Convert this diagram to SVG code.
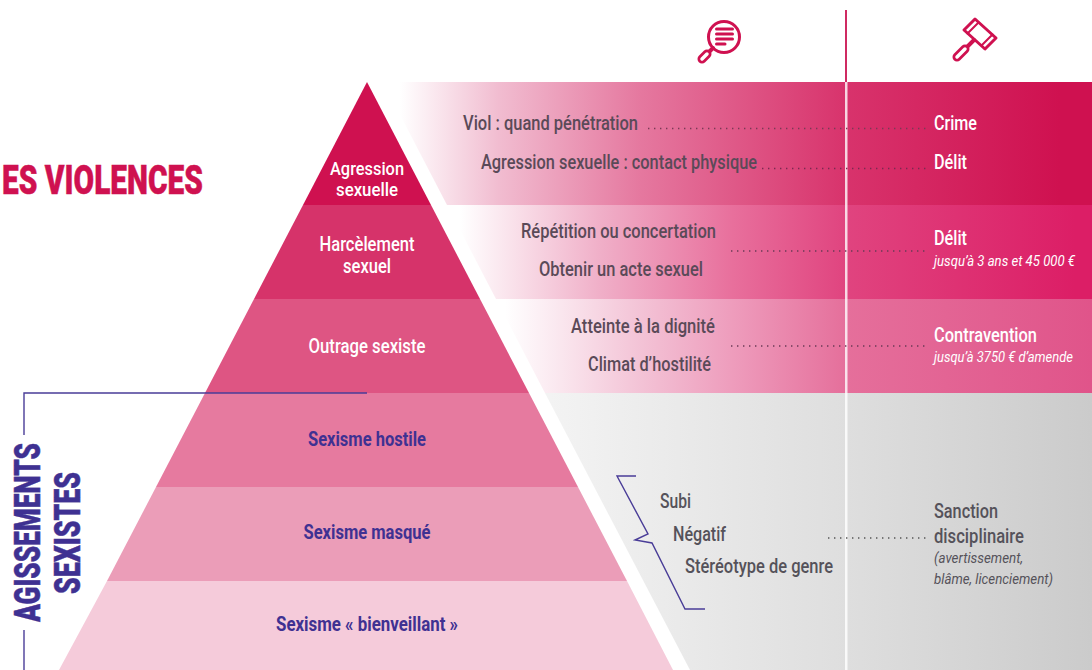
<svg xmlns="http://www.w3.org/2000/svg" width="1092" height="670" viewBox="0 0 1092 670">
<style>
text{font-family:"Roboto","Liberation Sans",sans-serif;}
.w{fill:#fff;font-weight:500;font-size:19.500px;text-anchor:middle;}
.w2{fill:#fff;font-weight:500;font-size:18px;text-anchor:middle;}
.v{fill:#3f3192;font-weight:700;font-size:19.500px;text-anchor:middle;}
.g{fill:#5a4a58;font-weight:500;font-size:20px;}
.dk{fill:#55525a;font-weight:500;font-size:20px;}
.r{fill:#fff;font-weight:500;font-size:20px;}
.ri{fill:#fff;font-style:italic;font-size:14.500px;}
.gi{fill:#55525a;font-style:italic;font-size:14.500px;}
.big{fill:#3f3192;font-weight:900;font-size:37px;stroke:#3f3192;stroke-width:.5;}
.dot{stroke-dasharray:1.4 4.6;stroke-width:1.4;fill:none;}
.ic{fill:none;stroke:#cf1150;stroke-width:3;stroke-linejoin:round;stroke-linecap:round;}
.ic4{fill:none;stroke:#cf1150;stroke-width:4;stroke-linecap:round;}
.ic2{fill:none;stroke:#cf1150;stroke-width:2;stroke-linecap:round;}
.grip{fill:none;stroke:#cf1150;stroke-width:9;stroke-linecap:round;}
.gripin{fill:none;stroke:#fff;stroke-width:3.500;stroke-linecap:round;}
</style>
<defs>
<linearGradient id="p1" gradientUnits="userSpaceOnUse" x1="400" y1="0" x2="1060" y2="0"><stop offset="0" stop-color="#fff"/><stop offset="0.15" stop-color="#f1bcd0"/><stop offset="0.364" stop-color="#e5789f"/><stop offset="0.676" stop-color="#d8336c"/><stop offset="1" stop-color="#cf1150"/></linearGradient>
<linearGradient id="p2" gradientUnits="userSpaceOnUse" x1="460" y1="0" x2="1075" y2="0"><stop offset="0" stop-color="#fff"/><stop offset="0.228" stop-color="#f0afc8"/><stop offset="0.444" stop-color="#e86f9c"/><stop offset="0.628" stop-color="#e0447f"/><stop offset="1" stop-color="#dc1e66"/></linearGradient>
<linearGradient id="p3" gradientUnits="userSpaceOnUse" x1="505" y1="0" x2="1092" y2="0"><stop offset="0" stop-color="#fff"/><stop offset="0.23" stop-color="#f3c3d6"/><stop offset="0.389" stop-color="#ee9cbc"/><stop offset="0.581" stop-color="#e56f9b"/><stop offset="1" stop-color="#e0548a"/></linearGradient>
<linearGradient id="p4" gradientUnits="userSpaceOnUse" x1="550" y1="0" x2="1092" y2="0"><stop offset="0" stop-color="#f3f3f3"/><stop offset="0.55" stop-color="#dedede"/><stop offset="1" stop-color="#cbcbcb"/></linearGradient>
</defs>

<g id="panels">
<polygon points="383,82 1092,82 1092,205 447,205" fill="url(#p1)"/>
<polygon points="447,205 1092,205 1092,299 496,299" fill="url(#p2)"/>
<polygon points="496,299 1092,299 1092,393 545,393" fill="url(#p3)"/>
<polygon points="545,393 1092,393 1092,670 690,670" fill="url(#p4)"/>
</g>
<g id="divider">
<rect x="845" y="10" width="2" height="72" fill="#cf2a62"/>
<rect x="845" y="82" width="2.500" height="588" fill="#fff" fill-opacity="0.8"/>
</g>

<g id="node-agression">
<polygon points="367,82 431,205 303,205" fill="#cf1150"/>
<text class="w2" x="367" y="175" textLength="74" lengthAdjust="spacingAndGlyphs">Agression</text>
<text class="w2" x="367" y="195.500" textLength="62" lengthAdjust="spacingAndGlyphs">sexuelle</text>
</g>
<g id="node-harcelement">
<polygon points="303,205 431,205 480,299 254,299" fill="#d6336a"/>
<text class="w" x="367" y="251" textLength="95" lengthAdjust="spacingAndGlyphs">Harcèlement</text>
<text class="w" x="367" y="272.500" textLength="48" lengthAdjust="spacingAndGlyphs">sexuel</text>
</g>
<g id="node-outrage">
<polygon points="254,299 480,299 529,393 205,393" fill="#de5583"/>
<text class="w" x="367" y="353" textLength="117" lengthAdjust="spacingAndGlyphs">Outrage sexiste</text>
</g>
<g id="node-hostile">
<polygon points="205,393 529,393 578,487 156,487" fill="#e67a9f"/>
<text class="v" x="367" y="445.500" textLength="118" lengthAdjust="spacingAndGlyphs">Sexisme hostile</text>
</g>
<g id="node-masque">
<polygon points="156,487 578,487 627,581 107,581" fill="#eb9db8"/>
<text class="v" x="367" y="538.500" textLength="127" lengthAdjust="spacingAndGlyphs">Sexisme masqué</text>
</g>
<g id="node-bienveillant">
<polygon points="107,581 627,581 673,670 59,670" fill="#f5cbda"/>
<text class="v" x="367" y="630.500" textLength="182" lengthAdjust="spacingAndGlyphs">Sexisme « bienveillant »</text>
</g>

<g id="title"><text x="2" y="194" fill="#cf1150" font-size="41" font-weight="900" stroke="#cf1150" stroke-width=".5" textLength="201" lengthAdjust="spacingAndGlyphs">ES VIOLENCES</text></g>

<g id="agissements">
<text class="big" transform="translate(39.500,622) rotate(-90)" textLength="179" lengthAdjust="spacingAndGlyphs">AGISSEMENTS</text>
<text class="big" transform="translate(79.500,594) rotate(-90)" textLength="122" lengthAdjust="spacingAndGlyphs">SEXISTES</text>
</g>

<g id="connectors" fill="none" stroke="#4a3d98" stroke-width="1.400">
<path d="M367,393 H24 V435"/>
<path d="M24,630 V670"/>
<path d="M636,476 H617 L648,534 L635,540 L652,543 L685,609 H705"/>
</g>
<g id="dotted">
<path class="dot" stroke="#7a3a55" d="M648,128.500 H927"/>
<path class="dot" stroke="#7a2a50" d="M762,168.500 H927"/>
<path class="dot" stroke="#6a3a55" d="M731,251 H927"/>
<path class="dot" stroke="#6a3a55" d="M731,346 H927"/>
<path class="dot" stroke="#555" d="M828,538 H927"/>
</g>

<g id="col-left">
<text class="g" x="463" y="130" textLength="175" lengthAdjust="spacingAndGlyphs">Viol : quand pénétration</text>
<text class="g" x="481" y="169" textLength="276" lengthAdjust="spacingAndGlyphs">Agression sexuelle : contact physique</text>
<text class="g" x="521" y="238" textLength="195" lengthAdjust="spacingAndGlyphs">Répétition ou concertation</text>
<text class="g" x="539" y="276" textLength="164" lengthAdjust="spacingAndGlyphs">Obtenir un acte sexuel</text>
<text class="g" x="571" y="333" textLength="144" lengthAdjust="spacingAndGlyphs">Atteinte à la dignité</text>
<text class="g" x="588" y="371" textLength="123" lengthAdjust="spacingAndGlyphs">Climat d’hostilité</text>
<text class="dk" x="660" y="508" textLength="31" lengthAdjust="spacingAndGlyphs">Subi</text>
<text class="dk" x="673" y="541" textLength="53" lengthAdjust="spacingAndGlyphs">Négatif</text>
<text class="dk" x="685" y="573" textLength="148" lengthAdjust="spacingAndGlyphs">Stéréotype de genre</text>
</g>
<g id="col-right">
<text class="r" x="934" y="130" textLength="43" lengthAdjust="spacingAndGlyphs">Crime</text>
<text class="r" x="934" y="169" textLength="33" lengthAdjust="spacingAndGlyphs">Délit</text>
<text class="r" x="934" y="245" textLength="33" lengthAdjust="spacingAndGlyphs">Délit</text>
<text class="ri" x="934" y="266" textLength="141" lengthAdjust="spacingAndGlyphs">jusqu’à 3 ans et 45 000 €</text>
<text class="r" x="934" y="342" textLength="103" lengthAdjust="spacingAndGlyphs">Contravention</text>
<text class="ri" x="934" y="362" textLength="139" lengthAdjust="spacingAndGlyphs">jusqu’à 3750 € d’amende</text>
<text class="dk" x="934" y="518" textLength="64" lengthAdjust="spacingAndGlyphs">Sanction</text>
<text class="dk" x="934" y="543" textLength="90" lengthAdjust="spacingAndGlyphs">disciplinaire</text>
<text class="gi" x="934" y="563" textLength="89" lengthAdjust="spacingAndGlyphs">(avertissement,</text>
<text class="gi" x="934" y="584" textLength="119" lengthAdjust="spacingAndGlyphs">blâme, licenciement)</text>
</g>

<g id="icon-search">
<circle class="ic" cx="724" cy="37" r="15.500"/>
<path class="ic" d="M716.500,29 H732.500 M716.500,34 H732.500 M716.500,39 H732.500 M716.500,44 H725"/>
<path class="ic4" d="M713,48 L707,54"/>
<path class="grip" d="M707,54 L702,59"/>
<path class="gripin" d="M707,54 L702,59"/>
</g>
<g id="icon-gavel">
<path class="ic" d="M975,19 L996,38 L985,49 L964,30 Z"/>
<path class="ic2" d="M978.500,22.500 L967.500,33.500 M992.500,34.500 L981.500,45.500"/>
<path class="ic4" d="M974,40 L965,49"/>
<path class="grip" d="M965,49 L957,57"/>
<path class="gripin" d="M965,49 L957,57"/>
</g>
</svg>
